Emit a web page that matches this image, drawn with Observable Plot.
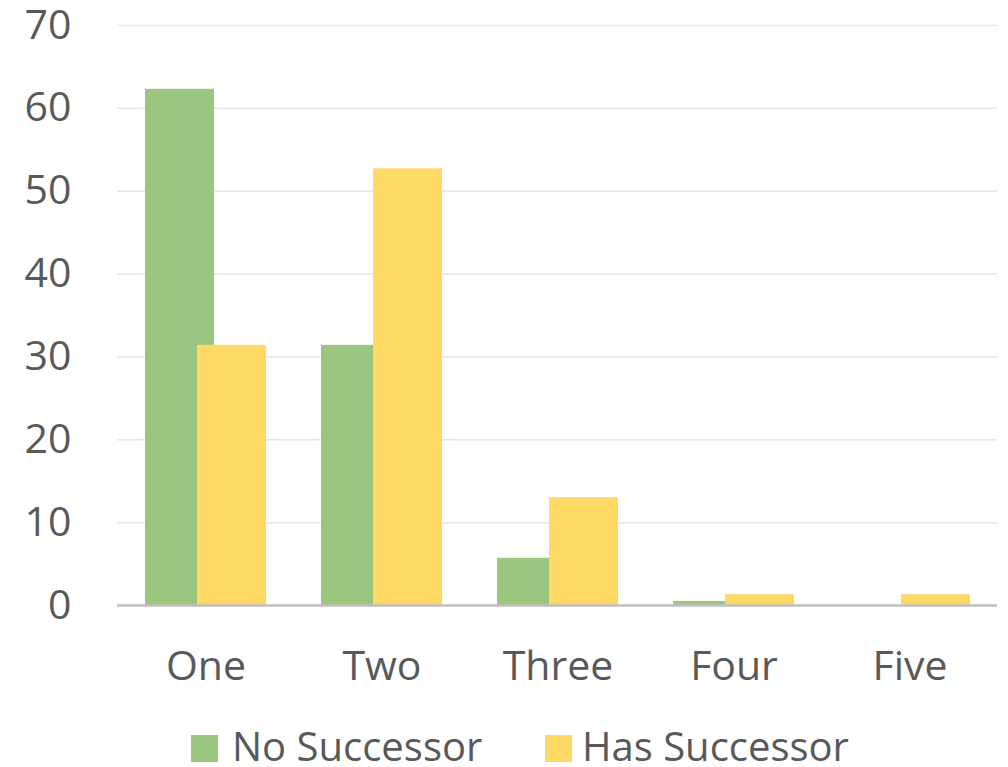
<!DOCTYPE html>
<html>
<head>
<meta charset="utf-8">
<script src="https://cdn.jsdelivr.net/npm/d3@7"></script>
<script src="https://cdn.jsdelivr.net/npm/@observablehq/plot@0.6"></script>
<style>
  html, body { margin: 0; background: #fff; font-family: "Open Sans", Lato, sans-serif; overflow: hidden; }
  #legend { position: relative; height: 52px; font-size: 40px; color: #595959; }
  .sw { position: absolute; width: 27px; height: 27px; top: 20px; }
  .lt { position: absolute; top: 11px; line-height: 1; white-space: nowrap; }
</style>
</head>
<body>
<div id="chart"></div>
<div id="legend"></div>
<script>
const categories = ["One", "Two", "Three", "Four", "Five"];
const seriesNames = ["No Successor", "Has Successor"];
const noSuccessor = [62.3, 31.4, 5.7, 0.5, 0];
const hasSuccessor = [31.4, 52.7, 13.0, 1.3, 1.3];
const yTicks = [0, 10, 20, 30, 40, 50, 60, 70];
const colors = ["#9CC67F", "#FFD966"];

const data = [];
categories.forEach((c, i) => {
  data.push({cat: c, series: seriesNames[0], value: noSuccessor[i]});
  data.push({cat: c, series: seriesNames[1], value: hasSuccessor[i]});
});

const chart = Plot.plot({
  width: 1008,
  height: 715,
  marginTop: 25,
  marginBottom: 110,
  marginLeft: 117,
  marginRight: 11,
  style: {fontFamily: "'Open Sans', Lato, sans-serif", color: "#595959", background: "#fff"},
  x: {domain: categories, paddingInner: 0.608, paddingOuter: 0.304, align: 0.5, label: null},
  y: {domain: [0, 70], label: null},
  color: {domain: seriesNames, range: colors},
  marks: [
    Plot.ruleY(yTicks.filter(d => d > 0), {stroke: "#E6E6E6", strokeWidth: 1.5}),
    Plot.barY(data.filter(d => d.series === seriesNames[0]), {x: "cat", y: "value", fill: colors[0], dx: -26}),
    Plot.barY(data.filter(d => d.series === seriesNames[1]), {x: "cat", y: "value", fill: colors[1], dx: 26}),
    Plot.ruleY([0], {stroke: "#BFBFBF", strokeWidth: 2.5}),
    Plot.axisY({ticks: yTicks, tickSize: 0, tickPadding: 46, fontSize: 41, fill: "#595959", label: null}),
    Plot.axisX({tickSize: 0, tickPadding: 45, fontSize: 41, fill: "#595959", label: null})
  ]
});
document.getElementById("chart").appendChild(chart);

const legend = document.getElementById("legend");
const swX = [191, 545];
const txX = [232, 582];
seriesNames.forEach((s, i) => {
  const sw = document.createElement("div");
  sw.className = "sw";
  sw.style.left = swX[i] + "px";
  sw.style.background = colors[i];
  const t = document.createElement("span");
  t.className = "lt";
  t.style.left = txX[i] + "px";
  t.textContent = s;
  legend.appendChild(sw); legend.appendChild(t);
});
</script>
</body>
</html>
